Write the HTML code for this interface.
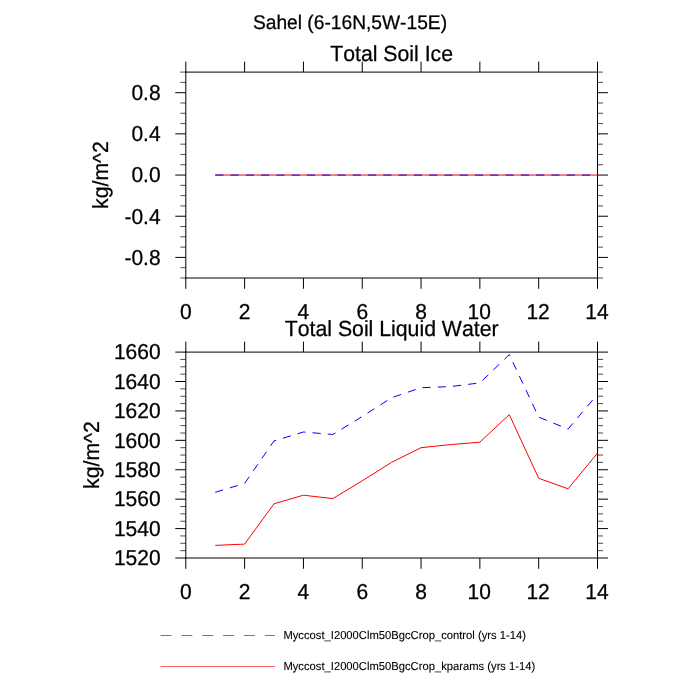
<!DOCTYPE html>
<html lang="en"><head><meta charset="utf-8"><title>Sahel (6-16N,5W-15E)</title>
<style>
html,body{margin:0;padding:0;background:#fff;overflow:hidden}
svg{display:block;font-family:"Liberation Sans",sans-serif;fill:#000;text-rendering:geometricPrecision;font-kerning:none;font-variant-ligatures:none}
text{stroke:#000;stroke-width:0.25px;stroke-linejoin:round}
.ax{stroke:#000;stroke-width:1;fill:none;stroke-linecap:square}
.tM{stroke:#000;stroke-width:1;fill:none}
.tm{stroke:#000;stroke-width:0.7;fill:none}
.tk{font-size:21.0px}
.tt{font-size:21.25px;text-anchor:middle}
.mt{font-size:19.2px;text-anchor:middle}
.yl{font-size:21.25px;text-anchor:middle}
.lg{font-size:11.22px;stroke-width:0.1px}
.r{text-anchor:end}.c{text-anchor:middle}
.red{stroke:#f00;fill:none;stroke-width:1}
.blue{stroke:#00f;fill:none;stroke-width:1}
</style></head><body>
<svg width="700" height="700" viewBox="0 0 700 700">
<rect width="700" height="700" fill="#fff"/>
<text class="mt" transform="translate(350 28.8) scale(1 1.03)">Sahel (6-16N,5W-15E)</text>
<path class="ax" d="M185.8 72.1H597.5M185.8 278H597.5M185.8 72.1V278M597.5 72.1V278"/>
<path class="tM" d="M185.8 72.1v-10.5M185.8 278v10.8M244.61 72.1v-10.5M244.61 278v10.8M303.43 72.1v-10.5M303.43 278v10.8M362.24 72.1v-10.5M362.24 278v10.8M421.06 72.1v-10.5M421.06 278v10.8M479.87 72.1v-10.5M479.87 278v10.8M538.69 72.1v-10.5M538.69 278v10.8M597.5 72.1v-10.5M597.5 278v10.8M185.8 92.69h-10.5M597.5 92.69h10.5M185.8 133.87h-10.5M597.5 133.87h10.5M185.8 175.05h-10.5M597.5 175.05h10.5M185.8 216.23h-10.5M597.5 216.23h10.5M185.8 257.41h-10.5M597.5 257.41h10.5"/>
<path class="tm" d="M185.8 72.1h-5.5M597.5 72.1h5.5M185.8 82.39h-5.5M597.5 82.39h5.5M185.8 102.98h-5.5M597.5 102.98h5.5M185.8 113.28h-5.5M597.5 113.28h5.5M185.8 123.57h-5.5M597.5 123.57h5.5M185.8 144.16h-5.5M597.5 144.16h5.5M185.8 154.46h-5.5M597.5 154.46h5.5M185.8 164.75h-5.5M597.5 164.75h5.5M185.8 185.34h-5.5M597.5 185.34h5.5M185.8 195.64h-5.5M597.5 195.64h5.5M185.8 205.94h-5.5M597.5 205.94h5.5M185.8 226.53h-5.5M597.5 226.53h5.5M185.8 236.82h-5.5M597.5 236.82h5.5M185.8 247.11h-5.5M597.5 247.11h5.5M185.8 267.7h-5.5M597.5 267.7h5.5M185.8 278h-5.5M597.5 278h5.5"/>
<text class="tk r" transform="translate(160.6 100.04) scale(1 1.03)">0.8</text>
<text class="tk r" transform="translate(160.6 141.22) scale(1 1.03)">0.4</text>
<text class="tk r" transform="translate(160.6 182.4) scale(1 1.03)">0.0</text>
<text class="tk r" transform="translate(160.6 223.58) scale(1 1.03)">-0.4</text>
<text class="tk r" transform="translate(160.6 264.76) scale(1 1.03)">-0.8</text>
<text class="tk c" transform="translate(185.8 319) scale(1 1.03)">0</text>
<text class="tk c" transform="translate(244.61 319) scale(1 1.03)">2</text>
<text class="tk c" transform="translate(303.43 319) scale(1 1.03)">4</text>
<text class="tk c" transform="translate(362.24 319) scale(1 1.03)">6</text>
<text class="tk c" transform="translate(421.06 319) scale(1 1.03)">8</text>
<text class="tk c" transform="translate(479.27 319) scale(1 1.03)">10</text>
<text class="tk c" transform="translate(538.09 319) scale(1 1.03)">12</text>
<text class="tk c" transform="translate(596.9 319) scale(1 1.03)">14</text>
<text class="tt" transform="translate(391.65 60.65) scale(1 1.03)">Total Soil Ice</text>
<text class="yl" transform="translate(107.9 175.05) rotate(-90) scale(1 1.03)">kg/m^2</text>
<path class="red" d="M215.21 175.05H597.5"/>
<path class="blue" stroke-dasharray="8.2 7.08" d="M215.21 175.05H597.5"/>
<path class="ax" d="M185.8 352.1H597.5M185.8 558H597.5M185.8 352.1V558M597.5 352.1V558"/>
<path class="tM" d="M185.8 352.1v-10.5M185.8 558v10.8M244.61 352.1v-10.5M244.61 558v10.8M303.43 352.1v-10.5M303.43 558v10.8M362.24 352.1v-10.5M362.24 558v10.8M421.06 352.1v-10.5M421.06 558v10.8M479.87 352.1v-10.5M479.87 558v10.8M538.69 352.1v-10.5M538.69 558v10.8M597.5 352.1v-10.5M597.5 558v10.8M185.8 352.1h-10.5M597.5 352.1h10.5M185.8 381.51h-10.5M597.5 381.51h10.5M185.8 410.93h-10.5M597.5 410.93h10.5M185.8 440.34h-10.5M597.5 440.34h10.5M185.8 469.76h-10.5M597.5 469.76h10.5M185.8 499.17h-10.5M597.5 499.17h10.5M185.8 528.59h-10.5M597.5 528.59h10.5M185.8 558h-10.5M597.5 558h10.5"/>
<path class="tm" d="M185.8 359.45h-5.5M597.5 359.45h5.5M185.8 366.81h-5.5M597.5 366.81h5.5M185.8 374.16h-5.5M597.5 374.16h5.5M185.8 388.87h-5.5M597.5 388.87h5.5M185.8 396.22h-5.5M597.5 396.22h5.5M185.8 403.58h-5.5M597.5 403.58h5.5M185.8 418.28h-5.5M597.5 418.28h5.5M185.8 425.64h-5.5M597.5 425.64h5.5M185.8 432.99h-5.5M597.5 432.99h5.5M185.8 447.7h-5.5M597.5 447.7h5.5M185.8 455.05h-5.5M597.5 455.05h5.5M185.8 462.4h-5.5M597.5 462.4h5.5M185.8 477.11h-5.5M597.5 477.11h5.5M185.8 484.46h-5.5M597.5 484.46h5.5M185.8 491.82h-5.5M597.5 491.82h5.5M185.8 506.52h-5.5M597.5 506.52h5.5M185.8 513.88h-5.5M597.5 513.88h5.5M185.8 521.23h-5.5M597.5 521.23h5.5M185.8 535.94h-5.5M597.5 535.94h5.5M185.8 543.29h-5.5M597.5 543.29h5.5M185.8 550.65h-5.5M597.5 550.65h5.5"/>
<text class="tk r" transform="translate(160.6 359.35) scale(1 1.03)">1660</text>
<text class="tk r" transform="translate(160.6 388.76) scale(1 1.03)">1640</text>
<text class="tk r" transform="translate(160.6 418.18) scale(1 1.03)">1620</text>
<text class="tk r" transform="translate(160.6 447.59) scale(1 1.03)">1600</text>
<text class="tk r" transform="translate(160.6 477.01) scale(1 1.03)">1580</text>
<text class="tk r" transform="translate(160.6 506.42) scale(1 1.03)">1560</text>
<text class="tk r" transform="translate(160.6 535.84) scale(1 1.03)">1540</text>
<text class="tk r" transform="translate(160.6 565.25) scale(1 1.03)">1520</text>
<text class="tk c" transform="translate(185.8 599) scale(1 1.03)">0</text>
<text class="tk c" transform="translate(244.61 599) scale(1 1.03)">2</text>
<text class="tk c" transform="translate(303.43 599) scale(1 1.03)">4</text>
<text class="tk c" transform="translate(362.24 599) scale(1 1.03)">6</text>
<text class="tk c" transform="translate(421.06 599) scale(1 1.03)">8</text>
<text class="tk c" transform="translate(479.27 599) scale(1 1.03)">10</text>
<text class="tk c" transform="translate(538.09 599) scale(1 1.03)">12</text>
<text class="tk c" transform="translate(596.9 599) scale(1 1.03)">14</text>
<text class="tt" transform="translate(391.65 335.7) scale(1 1.03)">Total Soil Liquid Water</text>
<text class="yl" transform="translate(98.5 455.05) rotate(-90) scale(1 1.03)">kg/m^2</text>
<polyline class="red" points="215.21,545.4 244.61,544.1 274.02,503.8 303.43,495.2 332.84,498.6 362.24,480.8 391.65,462.3 421.06,447.7 450.46,444.6 479.87,442.2 509.28,414.6 538.69,478.3 568.09,488.8 597.5,453.1"/>
<polyline class="blue" stroke-dasharray="8.2 7.08" points="215.21,492.3 244.61,483.4 274.02,440.9 303.43,432 332.84,434.5 362.24,416.5 391.65,397.7 421.06,387.7 450.46,386.6 479.87,382.9 509.28,354.6 538.69,417.1 568.09,429.1 597.5,394.3"/>
<path class="blue" style="stroke-width:0.6" stroke-dasharray="10.9 9.94" d="M160.6 635.5H275"/>
<path class="red" style="stroke-width:0.6" d="M160.6 666.5H275"/>
<text class="lg" transform="translate(283.4 638.65) scale(1 1.03)">Myccost_I2000Clm50BgcCrop_control (yrs 1-14)</text>
<text class="lg" transform="translate(283.4 669.65) scale(1 1.03)">Myccost_I2000Clm50BgcCrop_kparams (yrs 1-14)</text>
</svg></body></html>
